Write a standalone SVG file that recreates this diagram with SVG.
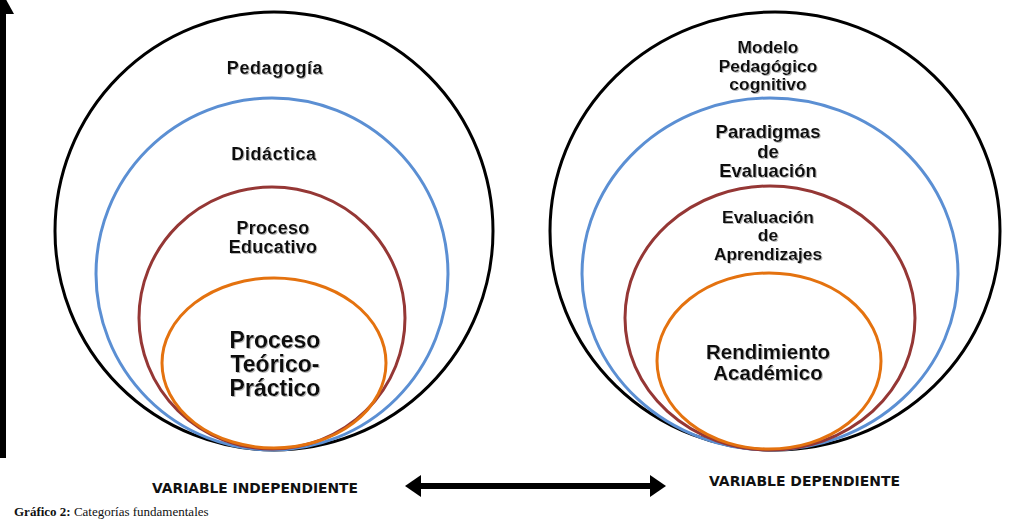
<svg xmlns="http://www.w3.org/2000/svg" width="1026" height="521" viewBox="0 0 1026 521">
<defs>
<style>
.c{fill:none;stroke-width:3}
.k{stroke:#000}
.b{stroke:#5b8fd3}
.r{stroke:#953735}
.o{stroke:#e4720f}
.t{font-family:"Liberation Sans",Arial,sans-serif;font-weight:bold;fill:#111;text-anchor:middle;filter:url(#sh)}
.v{font-family:"DejaVu Sans","Liberation Sans",sans-serif;font-weight:900;fill:#111;font-size:13.5px}
</style>
<filter id="sh" x="-10%" y="-10%" width="120%" height="130%">
<feDropShadow dx="1" dy="1" stdDeviation="0.6" flood-color="#999" flood-opacity="0.7"/>
</filter>
</defs>
<g id="connectors">
<line x1="3" y1="458" x2="3" y2="10" stroke="#000" stroke-width="6"/>
<polygon points="3,-6 -8,14 14,14" fill="#000"/>
<line x1="415" y1="486" x2="655" y2="486" stroke="#000" stroke-width="6"/>
<polygon points="405,486 421,475 421,497" fill="#000"/>
<polygon points="666,486 650,475 650,497" fill="#000"/>
</g>
<g id="left-pedagogia">
<ellipse class="c k" cx="274" cy="231" rx="219" ry="219"/>
<text class="t" x="275" y="74" font-size="18" letter-spacing="0.6">Pedagogía</text>
</g>
<g id="left-didactica">
<ellipse class="c b" cx="272" cy="274" rx="176" ry="176"/>
<text class="t" x="274" y="160" font-size="18" letter-spacing="0.6">Didáctica</text>
</g>
<g id="left-proceso-educativo">
<ellipse class="c r" cx="272" cy="318" rx="133" ry="131"/>
<text class="t" x="273" y="234" font-size="18" letter-spacing="0.3">Proceso</text>
<text class="t" x="273" y="253" font-size="18" letter-spacing="0.3">Educativo</text>
</g>
<g id="left-proceso-teorico">
<ellipse class="c o" cx="274" cy="363" rx="112" ry="85"/>
<text class="t" x="275" y="348" font-size="23">Proceso</text>
<text class="t" x="275" y="372" font-size="23">Teórico-</text>
<text class="t" x="275" y="396" font-size="23">Práctico</text>
</g>
<g id="right-modelo">
<ellipse class="c k" cx="775" cy="231" rx="225" ry="219"/>
<text class="t" x="768" y="53" font-size="17.4">Modelo</text>
<text class="t" x="768" y="72" font-size="17.4">Pedagógico</text>
<text class="t" x="768" y="90" font-size="17.4">cognitivo</text>
</g>
<g id="right-paradigmas">
<ellipse class="c b" cx="770" cy="274" rx="188" ry="176"/>
<text class="t" x="768" y="138" font-size="18.5">Paradigmas</text>
<text class="t" x="768" y="158" font-size="18.5">de</text>
<text class="t" x="768" y="177" font-size="18.5">Evaluación</text>
</g>
<g id="right-evaluacion">
<ellipse class="c r" cx="770" cy="318" rx="145" ry="132"/>
<text class="t" x="768" y="223" font-size="17.4">Evaluación</text>
<text class="t" x="768" y="241" font-size="17.4">de</text>
<text class="t" x="768" y="260" font-size="17.4">Aprendizajes</text>
</g>
<g id="right-rendimiento">
<ellipse class="c o" cx="769" cy="361" rx="112" ry="88"/>
<text class="t" x="768" y="359" font-size="20.5">Rendimiento</text>
<text class="t" x="768" y="380" font-size="20.5">Académico</text>
</g>
<g id="labels">
<text class="v" x="152" y="493" textLength="206" lengthAdjust="spacingAndGlyphs">VARIABLE INDEPENDIENTE</text>
<text class="v" x="709" y="486" textLength="191" lengthAdjust="spacingAndGlyphs">VARIABLE DEPENDIENTE</text>
<text x="14" y="516" font-family="Liberation Serif,serif" font-size="13" fill="#111"><tspan font-weight="bold">Gráfico 2:</tspan> Categorías fundamentales</text>
</g>
</svg>
